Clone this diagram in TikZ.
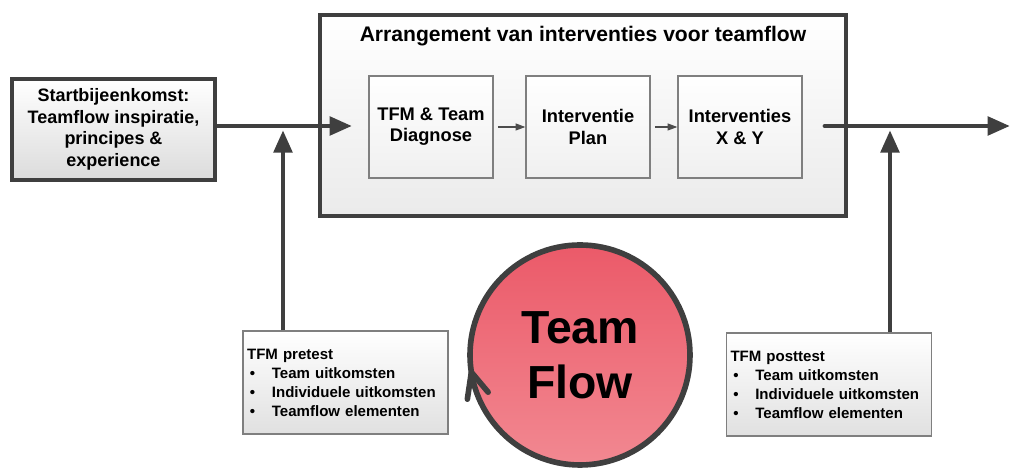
\documentclass[tikz,border=0pt]{standalone}
\usepackage{fontspec}
\setmainfont{Liberation Sans}
\usetikzlibrary{arrows.meta}

\definecolor{rim}{HTML}{3F3F3F}
\definecolor{boxgray}{HTML}{7F7F7F}
\definecolor{flowtop}{HTML}{EB5A69}
\definecolor{flowbot}{HTML}{F28891}
\newcommand{\opsom}{\makebox[0.62cm][l]{\hspace{2pt}\textbullet}}

\begin{document}
\begin{tikzpicture}[
    thickline/.style={rim, line width=3.4pt},
    bigtip/.style={-{Triangle[length=16pt,width=13pt]}},
    outerbox/.style={draw=rim, line width=2.8pt, top color=white, bottom color=black!14},
    stepbox/.style={draw=boxgray, line width=0.9pt, top color=white, bottom color=black!6,
        minimum width=3.1cm, minimum height=2.55cm, align=center,
        font=\bfseries\fontsize{13}{15}\selectfont},
    testbox/.style={draw=boxgray, line width=0.9pt, top color=white, bottom color=black!12,
        minimum width=5.125cm, minimum height=2.575cm, text width=4.925cm,
        inner xsep=0.1cm, align=left, font=\bfseries\fontsize{10.7}{13.5}\selectfont},
    smallarrow/.style={draw=black!70, line width=0.8pt, -{Triangle[length=7pt,width=5pt]}}
]
\useasboundingbox (0,0) rectangle (25.275,11.725);

% start meeting and the arrangement
\node[outerbox, minimum width=5.075cm, minimum height=2.525cm, align=center,
    font=\bfseries\fontsize{12.8}{15.3}\selectfont] (start) at (2.8375,8.49)
    {Startbijeenkomst:\\Teamflow inspiratie,\\principes \&\\experience};
\node[outerbox, bottom color=black!8, minimum width=13.15cm, minimum height=5.025cm] (arr) at (14.575,8.84) {};
\node[font=\bfseries\fontsize{15}{18}\selectfont] (titel) at (14.575,10.82)
    {Arrangement van interventies voor teamflow};

\node[stepbox] (s1) at (10.775,8.55) {TFM \& Team\\Diagnose};
\node[stepbox] (s2) at (14.7,8.55) {Interventie\\Plan};
\node[stepbox] (s3) at (18.5,8.55) {Interventies\\X \& Y};
\foreach \a/\b in {s1/s2,s2/s3}
    \draw[smallarrow, shorten <=3pt] (\a) -- (\b);

% pre and post measurement
\node[testbox] (pre) at (8.64,2.16)
    {TFM pretest\\ \opsom Team uitkomsten\\ \opsom Individuele uitkomsten\\ \opsom Teamflow elementen};
\node[testbox] (post) at (20.725,2.11)
    {TFM posttest\\ \opsom Team uitkomsten\\ \opsom Individuele uitkomsten\\ \opsom Teamflow elementen};

% main flow
\coordinate (in1) at (8.8,8.575);
\coordinate (out0) at (20.625,8.575);
\coordinate (out1) at (25.25,8.575);
\coordinate (up1) at (7.075,8.47);
\coordinate (up2) at (22.25,8.47);
\draw[thickline, bigtip] (start.east |- in1) -- (in1);
\draw[thickline, bigtip, line cap=round] (out0) -- (out1);
\draw[thickline, bigtip] (pre.north -| up1) -- (up1);
\draw[thickline, bigtip] (post.north -| up2) -- (up2);

% the flow circle with its open arrow head
\node[circle, draw=rim, line width=4pt, minimum size=5.5cm, top color=flowtop, bottom color=flowbot,
    align=center, font=\bfseries\fontsize{33}{39}\selectfont] (flow) at (14.5,2.85) {Team\\Flow};
\coordinate (tip) at ([shift={(189:2.75)}]flow.center);
\draw[rim, line width=4pt, line cap=round, line join=round]
    (tip) ++(-0.1,-0.675) -- (tip) -- ++(0.42,-0.5);
\end{tikzpicture}
\end{document}
